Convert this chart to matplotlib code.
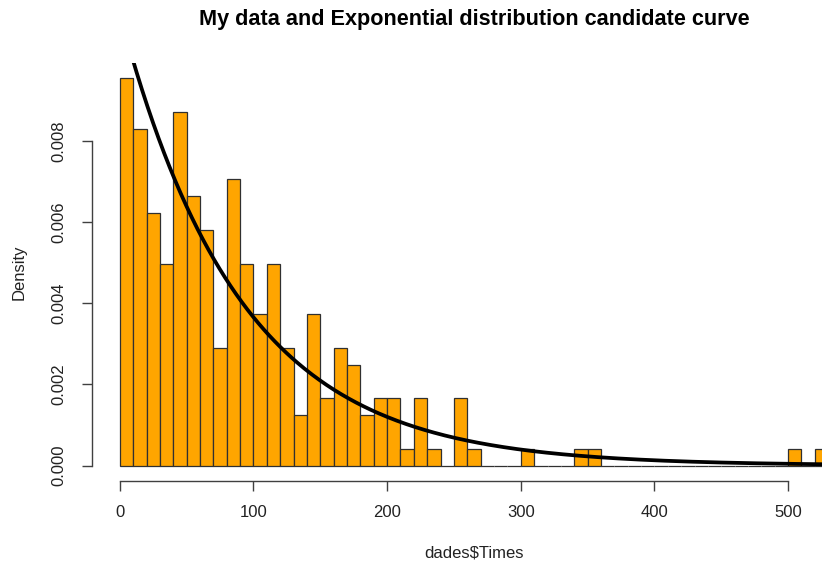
import numpy as np
import matplotlib.pyplot as plt

plt.rcParams['font.family'] = ['Liberation Sans', 'DejaVu Sans']

# histogram of observed times: 10-unit bins starting at 0
BIN_WIDTH = 10
bin_starts = np.arange(0, 530, BIN_WIDTH)
counts = [23, 20, 15, 12, 21, 16, 14, 7, 17, 12,
          9, 12, 7, 3, 9, 4, 7, 6, 3, 4,
          4, 1, 4, 1, 0, 4, 1, 0, 0, 0,
          1, 0, 0, 0, 1, 1, 0, 0, 0, 0,
          0, 0, 0, 0, 0, 0, 0, 0, 0, 0,
          1, 0, 1]

# exponential candidate, rate = 1 / sample mean
RATE = 0.01115

x_ticks = [0, 100, 200, 300, 400, 500]
y_ticks = [0.000, 0.002, 0.004, 0.006, 0.008]

edges = np.append(bin_starts, bin_starts[-1] + BIN_WIDTH)

fig = plt.figure(figsize=(8.22, 5.65), dpi=100)
# plot region runs past the right edge of the figure
ax = fig.add_axes([91.5 / 822, 84 / 565, 765 / 822, 418 / 565])

dens, _, _ = ax.hist(bin_starts, bins=edges, weights=counts, density=True,
                     color='orange', edgecolor='#303030', linewidth=0.9)

xr = edges[-1] - edges[0]
ax.set_xlim(edges[0] - 0.04 * xr, edges[-1] + 0.04 * xr)
ymax = dens.max()
ax.set_ylim(-0.04 * ymax, 1.04 * ymax)

xx = np.linspace(0, ax.get_xlim()[1], 400)
ax.plot(xx, RATE * np.exp(-RATE * xx), color='black', lw=2.7, zorder=3)

for s in ('top', 'right'):
    ax.spines[s].set_visible(False)
ax.spines['left'].set_bounds(y_ticks[0], y_ticks[-1])
ax.spines['bottom'].set_bounds(x_ticks[0], x_ticks[-1])
for s in ('left', 'bottom'):
    ax.spines[s].set_color('#404040')
    ax.spines[s].set_linewidth(1.0)

ax.set_xticks(x_ticks)
ax.set_xticklabels([str(v) for v in x_ticks])
ax.set_yticks(y_ticks)
ax.set_yticklabels([f"{v:.3f}" for v in y_ticks], rotation=90, va='center')
ax.tick_params(axis='both', direction='out', length=7.2, width=1.0,
               color='#404040', labelsize=12, labelcolor='#222222')
ax.tick_params(axis='x', pad=10)
ax.tick_params(axis='y', pad=11)

ax.set_xlabel(r"dades\$Times", fontsize=12, color='#222222', labelpad=18.5)
ax.set_ylabel("Density", fontsize=12, color='#222222', labelpad=17.5)
fig.suptitle("My data and Exponential distribution candidate curve",
             x=(91.5 + 856.5) / 2 / 822, y=1 - 20 / 565, va='center',
             fontsize=15.6, fontweight='bold')

fig.savefig("out.png", dpi=100)
